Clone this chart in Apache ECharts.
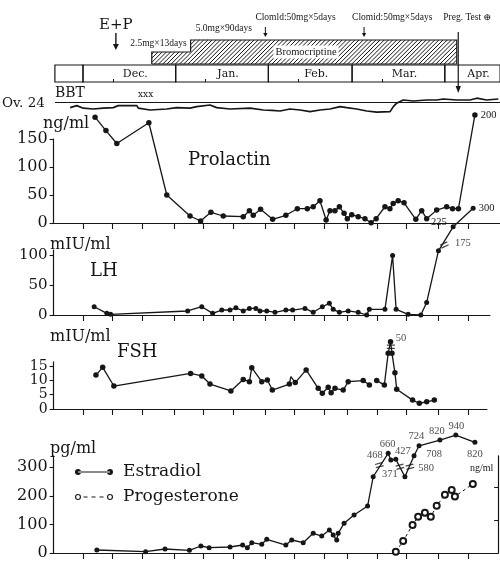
<!DOCTYPE html>
<html><head><meta charset="utf-8">
<script src="https://cdn.jsdelivr.net/npm/echarts@6/dist/echarts.min.js"></script>
<style>html,body{margin:0;padding:0;background:#fff}#c{width:500px;height:562px}</style>
</head><body><div id="c"></div>
<script>
// ---------------- data (days counted from Dec. 1) ----------------
const TICK_DAYS = [0, 10, 20, 31, 41, 51, 62, 72, 82, 90, 100, 110, 121, 131];
const MONTH_NAMES = ['', 'Dec.', 'Jan.', 'Feb.', 'Mar.', 'Apr.'];
const MONTH_START = [-9.4, 0, 31, 62, 90, 121];
const MONTH_END = [0, 31, 62, 90, 121, 139.5];
const MONTH_TICKS = [10, 41, 72, 100];

const BROMO_START = [23, 36];
const BROMO_END = [36, 125];
const BROMO_DOSE = [2.5, 5.0];
const BROMO_TEXT = ['2.5mg×13days', '5.0mg×90days'];

const EVENT_DAYS = [11, 61, 94, 125.5];
const EVENT_TEXT = ['E+P', 'Clomld:50mg×5days', 'Clomid:50mg×5days', 'Preg. Test ⊕'];

const BBT_DAY = [-4.3, -2.1, 0.1, 3.4, 6.8, 10.1, 11.8, 18.0, 18.5, 22.4, 28.0, 31.3, 35.8, 38.0, 42.5, 44.7, 49.2, 55.9, 60.3, 63.2, 65.9, 69.2, 72.6, 75.9, 79.3, 82.6, 86.0, 88.2, 91.5, 94.9, 98.2, 102.7, 103.8, 104.9, 107.1, 110.5, 114.9, 118.3, 120.5, 125.0, 129.4, 131.7, 135.0, 138.9];
const BBT_TEMP = [36.42, 36.52, 36.39, 36.35, 36.39, 36.42, 36.52, 36.52, 36.39, 36.30, 36.35, 36.42, 36.39, 36.47, 36.55, 36.42, 36.35, 36.39, 36.30, 36.28, 36.25, 36.35, 36.30, 36.22, 36.30, 36.35, 36.47, 36.42, 36.35, 36.25, 36.19, 36.22, 36.47, 36.64, 36.80, 36.75, 36.80, 36.80, 36.85, 36.80, 36.80, 36.89, 36.80, 36.85];
const BBT_REF = 36.7;

const PRL_DAY = [4.1, 7.8, 11.5, 22.4, 28.5, 36.4, 40.0, 43.5, 47.7, 54.5, 56.6, 57.9, 60.4, 64.5, 69.0, 72.9, 76.3, 78.3, 80.6, 82.7, 84.0, 85.7, 87.2, 88.8, 89.9, 91.4, 93.6, 95.9, 98.0, 99.7, 102.7, 104.4, 105.5, 107.2, 109.2, 113.2, 115.2, 116.9, 120.3, 123.7, 125.7, 127.7, 133.3];
const PRL_VAL = [189, 165, 142, 179, 50, 12.5, 3.6, 19, 12.5, 11.3, 22, 13.8, 24.5, 6.6, 13.8, 25.5, 25.5, 29, 39.8, 5.4, 22, 22, 29, 17.3, 7.7, 14.8, 11.3, 7.7, 0.5, 7.7, 29, 25.5, 35, 39.8, 36, 6.6, 22, 7.7, 23, 29, 25.5, 25.5, 193];
const PRL_END_TEXT = '200';

const LH_DAY = [3.8, 8.1, 9.4, 35.6, 40.4, 44.1, 47.2, 50.0, 52.0, 54.5, 56.6, 58.8, 60.2, 62.5, 65.3, 69.0, 71.3, 75.5, 78.3, 81.4, 83.8, 85.1, 87.2, 90.2, 93.6, 96.5, 97.4, 102.7, 105.3, 106.5, 110.6, 114.9, 116.9, 120.9, 125.9, 132.7];
const LH_VAL = [13.8, 2.8, 1.2, 6.7, 13.8, 2.8, 8.3, 8.3, 12, 6.7, 11, 11, 6.7, 6.7, 4.5, 8.3, 8.3, 11, 4.5, 13.8, 19.5, 9.5, 4.5, 6.7, 4.5, 0, 9.5, 9.5, 99, 9.5, 1.2, 0, 21, 107, 147, 178];
const LH_END_TEXT = ['225', '300'];
const LH_NOTE_DAY = [129.2], LH_NOTE_VAL = [120], LH_NOTE_TEXT = ['175'];
const LH_BREAK_DAY = [122.9], LH_BREAK_VAL = [116.7];

const FSH_DAY = [4.4, 6.7, 10.5, 36.6, 40.4, 43.2, 50.3, 54.5, 56.6, 57.4, 60.8, 62.7, 64.4, 70.2, 70.7, 72.2, 75.9, 80.0, 81.4, 83.4, 84.4, 85.7, 88.5, 90.2, 95.3, 97.4, 98.6, 99.9, 102.5, 103.8, 104.6, 105.1, 106.1, 106.7, 112.1, 114.4, 116.9, 119.5];
const FSH_VAL = [11.8, 14.5, 8, 12.4, 11.5, 8.7, 6.3, 10.3, 9.5, 14.4, 9.5, 10.1, 6.6, 8.7, 11.3, 9.2, 13.6, 7.2, 5.5, 7.6, 5.7, 7.2, 6.6, 9.5, 9.9, 8.4, null, 9.9, 8.4, 19.4, 23.4, 19.4, 12.6, 6.9, 3.1, 2.0, 2.5, 3.1];
const FSH_NOTE_DAY = [108.2], FSH_NOTE_VAL = [24.7], FSH_NOTE_TEXT = ['50'];
const FSH_BREAK_DAY = [104.7], FSH_BREAK_VAL = [21.7];

const E2_DAY = [4.7, 21.3, 27.9, 36.2, 40.1, 42.9, 50.0, 54.3, 55.9, 57.4, 60.8, 62.5, 69.0, 71.0, 74.9, 78.3, 81.2, 83.8, 85.1, 86.3, 86.8, 88.8, 92.2, 96.8, 98.7, 103.8, 104.7, 106.4, 109.5, 112.6, 114.3, 121.4, 126.8, 133.3];
const E2_VAL = [10.5, 4.6, 14, 9.3, 24.5, 18.6, 21, 28, 18.6, 36, 30.5, 48, 28, 45.5, 36, 69, 59.5, 80.5, 63, 45.5, 69, 104, 133, 164.5, 267, 349, 325.5, 328, 267, 340.5, 375.5, 395.5, 413, 387.5];
const E2_NOTE_DAY = [99.3, 103.6, 108.8, 104.4, 116.7, 113.4, 119.4, 120.4, 127.0, 133.3];
const E2_NOTE_VAL = [341, 381.5, 357, 276.5, 296, 409.5, 346.5, 427, 444.5, 346.5];
const E2_NOTE_TEXT = ['468', '660', '427', '371', '580', '724', '708', '820', '940', '820'];
const E2_BREAK_DAY = [100.8, 107.8, 111.2], E2_BREAK_VAL = [308, 302, 302];

const P4_DAY = [106.4, 108.9, 112.1, 114.0, 116.3, 118.3, 120.3, 123.1, 125.4, 126.5, 132.6];
const P4_VAL = [0.4, 3.6, 8.5, 11, 12.2, 11, 14.3, 17.6, 19.1, 17.1, 20.9];

// ---------------- styling ----------------
const INK = '#161616';
const SERIF = '"DejaVu Serif", "Liberation Serif", serif';
const TIMES = '"Liberation Serif", "DejaVu Serif", serif';
const NARROW = '"Liberation Sans Narrow", "Liberation Serif", serif';
const K = 2.94, KT = 2.99, DAY0 = 83;
const HATCH_STEP = 4.2;

function tlGrid(top, height) { return {left: DAY0 - 9.4 * KT, top, height, width: (139.5 + 9.4) * KT, outerBoundsMode: 'none', containLabel: false}; }
function pnGrid(top, height, maxDay) { return {left: DAY0 - 10 * K, top, height, width: (maxDay + 10) * K, outerBoundsMode: 'none', containLabel: false}; }

// diagonal "/" hatch lines clipped to a rectangle
function hatchLines(x0, y0, x1, y1) {
  const out = [];
  for (let c = Math.ceil((x0 + y0) / HATCH_STEP) * HATCH_STEP; c <= x1 + y1; c += HATCH_STEP) {
    const xa = Math.max(x0, c - y1), xb = Math.min(x1, c - y0);
    if (xb > xa) out.push({type: 'line', shape: {x1: xa, y1: c - xa, x2: xb, y2: c - xb}, style: {stroke: INK, lineWidth: 1}});
  }
  return out;
}

const ARROWS = [
  {top: 33, bottom: 50, head: 6, hw: 3, lw: 1.4, textY: 25, dx: 0, align: 'center', font: '15px ' + SERIF},
  {top: 27, bottom: 37, head: 4, hw: 2.2, lw: 1, textY: 17, dx: -10, align: 'left', font: '9.5px ' + TIMES},
  {top: 27, bottom: 37, head: 4, hw: 2.2, lw: 1, textY: 17, dx: -12, align: 'left', font: '9.5px ' + TIMES},
  {top: 32, bottom: 93, head: 7, hw: 2.6, lw: 1.2, textY: 17, dx: -15, align: 'left', font: '9.5px ' + TIMES}
];

function txt(text, x, y, font, extra) {
  return Object.assign({type: 'text', x, y, z: 100, style: {text, font, fill: INK, align: 'left', verticalAlign: 'middle', textAlign: 'left', textVerticalAlign: 'middle'}}, extra || {});
}

const lineAxis = {color: INK, width: 1.2};
function pnX(i, max) {
  return {gridIndex: i, type: 'value', min: -10, max, axisLine: {show: true, onZero: false, lineStyle: lineAxis},
    axisTick: {show: true, length: 6, customValues: TICK_DAYS, lineStyle: {color: INK, width: 1.1}},
    axisLabel: {show: false}, splitLine: {show: false}};
}
function pnY(i, max, ticks, interval, fs) {
  return {gridIndex: i, type: 'value', min: 0, max, interval, axisLine: {show: true, onZero: false, lineStyle: lineAxis},
    axisTick: {show: true, length: 4, customValues: ticks, lineStyle: {color: INK, width: 1.1}},
    axisLabel: {customValues: ticks, fontFamily: SERIF, fontSize: fs, color: INK, margin: 6},
    splitLine: {show: false}};
}
function tlX(i) {
  return {gridIndex: i, type: 'value', min: -9.4, max: 139.5, show: i === 1, axisLine: {show: false},
    axisTick: {show: i === 1, inside: true, length: 3, customValues: MONTH_TICKS, lineStyle: {color: INK, width: 1}},
    axisLabel: {show: false}, splitLine: {show: false}};
}
function hidY(i, min, max) { return {gridIndex: i, type: 'value', min, max, show: false, splitLine: {show: false}}; }

const NOTE_LABEL = {fontFamily: NARROW, fontSize: 10.5, color: INK};
function notes(xi, yi, days, vals, texts) {
  return {type: 'scatter', xAxisIndex: xi, yAxisIndex: yi, clip: false, silent: true, symbolSize: 1, z: 6,
    itemStyle: {color: 'rgba(0,0,0,0)'},
    label: Object.assign({show: true, position: 'inside', formatter: '{b}', textBorderWidth: 0}, NOTE_LABEL),
    data: days.map((d, i) => ({name: texts[i], value: [d, vals[i]]}))};
}
const BREAK_PATH = 'path://M0,0h10v1.4h-10z M0,3.6h10v1.4h-10z';
function breaks(xi, yi, days, vals, rot) {
  return {type: 'scatter', xAxisIndex: xi, yAxisIndex: yi, clip: false, silent: true, z: 6,
    symbol: BREAK_PATH, symbolSize: [8, 4.5], symbolRotate: rot, symbolKeepAspect: false, itemStyle: {color: INK},
    data: days.map((d, i) => [d, vals[i]])};
}
function lineSeries(name, xi, yi, data, extra) {
  return Object.assign({name, type: 'line', xAxisIndex: xi, yAxisIndex: yi, clip: false, silent: true,
    symbol: 'circle', symbolSize: 5.5, showAllSymbol: true, color: INK,
    itemStyle: {color: INK}, lineStyle: {color: INK, width: 1.3}, data}, extra || {});
}

// ---------------- series data ----------------
const prlData = PRL_DAY.map((d, i) => [d, PRL_VAL[i]]);
prlData[prlData.length - 1] = {value: prlData[prlData.length - 1],
  label: Object.assign({show: true, formatter: PRL_END_TEXT, position: 'right', distance: 3}, NOTE_LABEL)};

const lhData = LH_DAY.map((d, i) => [d, LH_VAL[i]]);
const nLH = lhData.length;
lhData[nLH - 2] = {value: lhData[nLH - 2], label: Object.assign({show: true, formatter: LH_END_TEXT[0], position: 'left', distance: 4, offset: [0, -5]}, NOTE_LABEL)};
lhData[nLH - 1] = {value: lhData[nLH - 1], label: Object.assign({show: true, formatter: LH_END_TEXT[1], position: 'right', distance: 3}, NOTE_LABEL)};

const fshData = FSH_DAY.map((d, i) => FSH_VAL[i] == null ? [d, '-'] : [d, FSH_VAL[i]]);
fshData[14] = {value: fshData[14], symbol: 'none'};

const e2Data = E2_DAY.map((d, i) => [d, E2_VAL[i]]);
const p4Data = P4_DAY.map((d, i) => [d, P4_VAL[i]]);
const bbtData = BBT_DAY.map((d, i) => [d, BBT_TEMP[i]]);

const E2_ICON = 'path://M0,3a3,3 0 1,0 6,0a3,3 0 1,0 -6,0Z M32,3a3,3 0 1,0 6,0a3,3 0 1,0 -6,0Z M3,2.4h32v1.2h-32Z';
const P4_ICON = 'path://M0,3a3,3 0 1,0 6,0a3,3 0 1,0 -6,0Z M1.1,3a1.9,1.9 0 1,1 3.8,0a1.9,1.9 0 1,1 -3.8,0Z M32,3a3,3 0 1,0 6,0a3,3 0 1,0 -6,0Z M33.1,3a1.9,1.9 0 1,1 3.8,0a1.9,1.9 0 1,1 -3.8,0Z M8.5,2.5h4v1h-4Z M16.5,2.5h4v1h-4Z M24.5,2.5h4v1h-4Z';

const chart = echarts.init(document.getElementById('c'), null, {renderer: 'canvas'});
chart.setOption({
  animation: false,
  backgroundColor: '#fff',
  grid: [
    tlGrid(40, 24), tlGrid(65, 17), tlGrid(92, 24),
    pnGrid(139, 84, 141.8), pnGrid(250.2, 64.8, 138.4), pnGrid(361.9, 47.1, 137.4), pnGrid(455.9, 97.1, 141.2)
  ],
  xAxis: [tlX(0), tlX(1), tlX(2), pnX(3, 141.8), pnX(4, 138.4), pnX(5, 137.4), pnX(6, 141.2)],
  yAxis: [
    hidY(0, 0, 5), hidY(1, 0, 1), hidY(2, 36.0, 37.2),
    pnY(3, 150, [0, 50, 100, 150], 50, 16),
    pnY(4, 108, [0, 50, 100], 50, 15),
    pnY(5, 16.4, [0, 5, 10, 15], 5, 14),
    pnY(6, 340, [0, 100, 200, 300], 100, 16),
    {gridIndex: 6, type: 'value', position: 'right', min: 0, max: 29.4, interval: 10,
      axisLine: {show: true, onZero: false, lineStyle: lineAxis},
      axisTick: {show: true, inside: true, length: 4, customValues: [10, 20], lineStyle: {color: INK, width: 1}},
      axisLabel: {show: false}, splitLine: {show: false}}
  ],
  legend: {left: 75, top: 462, orient: 'vertical', padding: 0, itemWidth: 38, itemHeight: 6, itemGap: 5,
    selectedMode: false, textStyle: {fontFamily: SERIF, fontSize: 17, color: INK, lineHeight: 20, padding: [0, 0, 0, 5]},
    data: [
      {name: 'Estradiol', icon: E2_ICON, itemStyle: {color: INK, borderWidth: 0}},
      {name: 'Progesterone', icon: P4_ICON, itemStyle: {color: INK, borderWidth: 0}}
    ]},
  graphic: [
    txt('Ov. 24', 2, 103, '13.5px ' + SERIF),
    txt('BBT', 55, 93, '14px ' + SERIF),
    txt('xxx', 138, 95, '9px ' + SERIF),
    {type: 'text', x: 306, y: 52, z: 100, style: {text: 'Bromocriptine', font: '10.5px ' + TIMES, fill: INK, backgroundColor: '#fff', padding: [1, 2],
      align: 'center', verticalAlign: 'middle', textAlign: 'center', textVerticalAlign: 'middle'}},
    txt('ng/ml', 43, 124, '16px ' + SERIF),
    txt('Prolactin', 188, 160, '18px ' + SERIF),
    txt('mIU/ml', 50, 245, '16px ' + SERIF),
    txt('LH', 90, 271, '18px ' + SERIF),
    txt('mIU/ml', 50, 337, '16px ' + SERIF),
    txt('FSH', 117, 352, '18px ' + SERIF),
    txt('pg/ml', 50, 449, '16px ' + SERIF),
    txt('ng/ml', 470, 468, '10px ' + TIMES)
  ],
  series: [
    { // bromocriptine dosing
      type: 'custom', xAxisIndex: 0, yAxisIndex: 0, silent: true, encode: {x: [0, 1], y: 2},
      data: BROMO_START.map((s, i) => [s, BROMO_END[i], BROMO_DOSE[i]]),
      renderItem: (params, api) => {
        const i = params.dataIndex;
        const tl = api.coord([api.value(0), api.value(2)]);
        const br = api.coord([api.value(1), 0]);
        const prevTop = i > 0 ? api.coord([api.value(0), BROMO_DOSE[i - 1]])[1] : br[1];
        const last = i === BROMO_START.length - 1;
        const pts = [[tl[0], prevTop], [tl[0], tl[1]], [br[0], tl[1]]];
        if (last) pts.push([br[0], br[1]]);
        const t = i === 0
          ? {x: br[0] - 4, y: tl[1] - 9, align: 'right'}
          : {x: tl[0] + 5, y: tl[1] - 12, align: 'left'};
        return {type: 'group', children: hatchLines(tl[0], tl[1], br[0], br[1]).concat([
          {type: 'polyline', shape: {points: pts}, style: {fill: 'none', stroke: INK, lineWidth: 1.2}},
          {type: 'line', shape: {x1: tl[0], y1: br[1], x2: br[0], y2: br[1]}, style: {stroke: INK, lineWidth: 1.2}},
          {type: 'text', x: t.x, y: t.y, style: {text: BROMO_TEXT[i], font: '9.5px ' + TIMES, fill: INK,
            align: t.align, verticalAlign: 'middle', textAlign: t.align, textVerticalAlign: 'middle'}}
        ])};
      }
    },
    { // events (arrows)
      type: 'custom', xAxisIndex: 0, yAxisIndex: 0, silent: true,
      data: EVENT_DAYS.map(d => [d, 0]),
      renderItem: (params, api) => {
        const i = params.dataIndex, g = ARROWS[i];
        const x = api.coord([api.value(0), 0])[0];
        return {type: 'group', children: [
          {type: 'line', shape: {x1: x, y1: g.top, x2: x, y2: g.bottom - g.head + 1}, style: {stroke: INK, lineWidth: g.lw}},
          {type: 'polygon', shape: {points: [[x - g.hw, g.bottom - g.head], [x + g.hw, g.bottom - g.head], [x, g.bottom]]}, style: {fill: INK}},
          {type: 'text', x: x + g.dx, y: g.textY, style: {text: EVENT_TEXT[i], font: g.font, fill: INK,
            align: g.align, verticalAlign: 'middle', textAlign: g.align, textVerticalAlign: 'middle'}}
        ]};
      }
    },
    { // month boxes
      type: 'custom', xAxisIndex: 1, yAxisIndex: 1, silent: true,
      data: MONTH_START.map((s, i) => [s, MONTH_END[i]]),
      renderItem: (params, api) => {
        const i = params.dataIndex;
        const a = api.coord([api.value(0), 1]);
        const b = api.coord([api.value(1), 0]);
        return {type: 'group', children: [
          {type: 'rect', shape: {x: a[0], y: a[1], width: b[0] - a[0], height: b[1] - a[1]}, style: {fill: 'none', stroke: INK, lineWidth: 1.2}},
          {type: 'text', x: (a[0] + b[0]) / 2 + 6, y: (a[1] + b[1]) / 2 + 0.5, style: {text: MONTH_NAMES[i], font: '11px ' + SERIF, fill: INK,
            align: 'center', verticalAlign: 'middle', textAlign: 'center', textVerticalAlign: 'middle'}}
        ]};
      }
    },
    { // BBT
      name: 'BBT', type: 'line', xAxisIndex: 2, yAxisIndex: 2, silent: true, symbol: 'none', clip: false,
      lineStyle: {color: INK, width: 1.7}, data: bbtData,
      markLine: {silent: true, symbol: ['none', 'none'], label: {show: false}, lineStyle: {color: INK, width: 1, type: 'solid'}, data: [{yAxis: BBT_REF}]}
    },
    lineSeries('Prolactin', 3, 3, prlData),
    lineSeries('LH', 4, 4, lhData, {symbolSize: 5}),
    notes(4, 4, LH_NOTE_DAY, LH_NOTE_VAL, LH_NOTE_TEXT),
    breaks(4, 4, LH_BREAK_DAY, LH_BREAK_VAL, 25),
    lineSeries('FSH', 5, 5, fshData),
    notes(5, 5, FSH_NOTE_DAY, FSH_NOTE_VAL, FSH_NOTE_TEXT),
    breaks(5, 5, FSH_BREAK_DAY, FSH_BREAK_VAL, 0),
    lineSeries('Estradiol', 6, 6, e2Data, {symbolSize: 5}),
    lineSeries('Progesterone', 6, 7, p4Data, {symbol: 'emptyCircle', symbolSize: 6,
      itemStyle: {color: INK, borderWidth: 1}, lineStyle: {color: INK, width: 1, type: [3, 3]}}),
    notes(6, 6, E2_NOTE_DAY, E2_NOTE_VAL, E2_NOTE_TEXT),
    breaks(6, 6, E2_BREAK_DAY, E2_BREAK_VAL, 15)
  ]
});
</script></body></html>
